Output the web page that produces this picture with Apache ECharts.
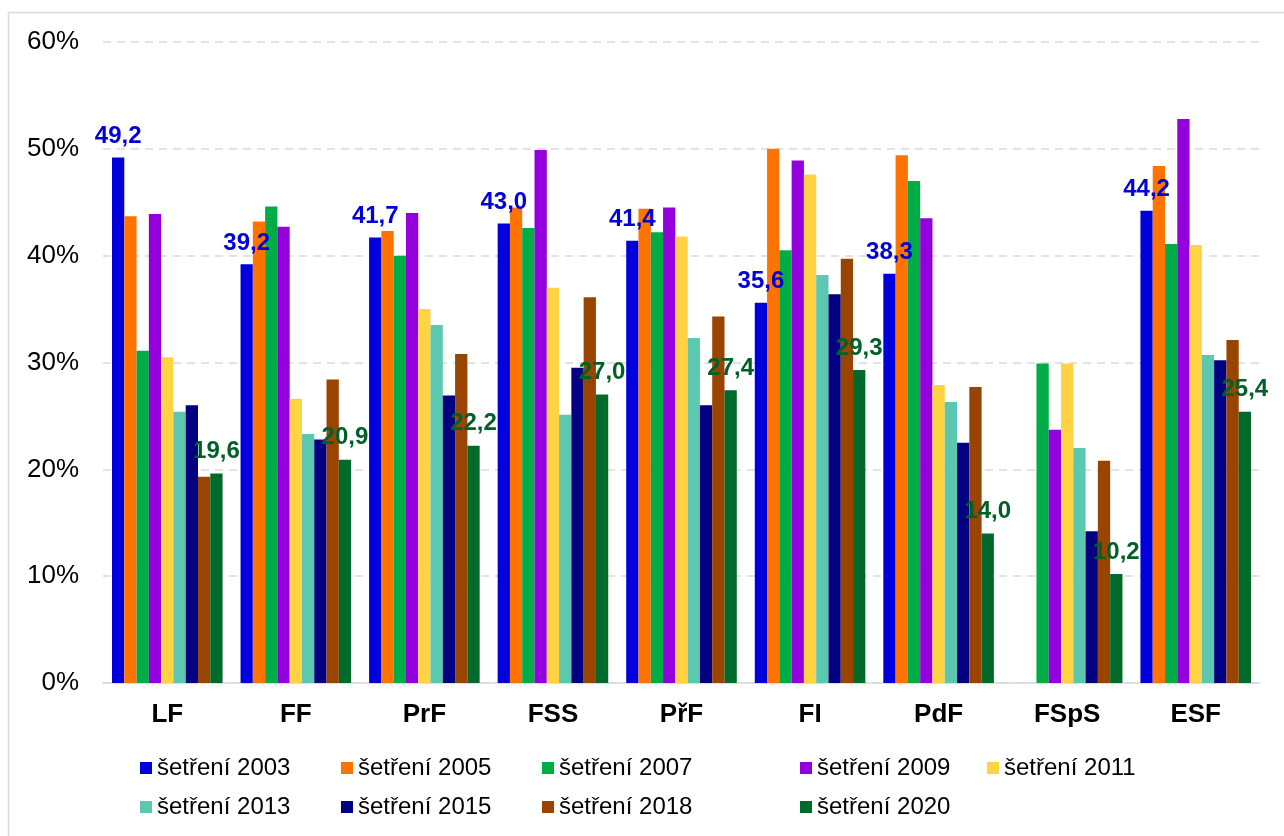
<!DOCTYPE html>
<html>
<head>
<meta charset="utf-8">
<script src="https://cdn.jsdelivr.net/npm/echarts@6/dist/echarts.min.js"></script>
<style>
  html, body { margin: 0; padding: 0; background: #fff; }
  #chart { width: 1284px; height: 836px; }
</style>
</head>
<body>
<div id="chart"></div>
<script>
// fakulty
const categories = ['LF', 'FF', 'PrF', 'FSS', 'PřF', 'FI', 'PdF', 'FSpS', 'ESF'];

// hodnoty v % podle šetření
const s2003 = [49.2, 39.2, 41.7, 43.0, 41.4, 35.6, 38.3, null, 44.2];
const s2005 = [43.7, 43.2, 42.3, 44.5, 44.4, 50.0, 49.4, null, 48.4];
const s2007 = [31.1, 44.6, 40.0, 42.6, 42.2, 40.5, 47.0, 29.9, 41.1];
const s2009 = [43.9, 42.7, 44.0, 49.9, 44.5, 48.9, 43.5, 23.7, 52.8];
const s2011 = [30.5, 26.6, 35.0, 37.0, 41.8, 47.6, 27.9, 29.9, 41.0];
const s2013 = [25.4, 23.3, 33.5, 25.1, 32.3, 38.2, 26.3, 22.0, 30.7];
const s2015 = [26.0, 22.8, 26.9, 29.5, 26.0, 36.4, 22.5, 14.2, 30.2];
const s2018 = [19.3, 28.4, 30.8, 36.1, 34.3, 39.7, 27.7, 20.8, 32.1];
const s2020 = [19.6, 20.9, 22.2, 27.0, 27.4, 29.3, 14.0, 10.2, 25.4];

const seriesNames = ['šetření 2003', 'šetření 2005', 'šetření 2007', 'šetření 2009', 'šetření 2011',
  'šetření 2013', 'šetření 2015', 'šetření 2018', 'šetření 2020'];
const seriesData = [s2003, s2005, s2007, s2009, s2011, s2013, s2015, s2018, s2020];
const colors = ['#0000dc', '#ff7300', '#00ac45', '#9400dc', '#ffd343',
  '#5cc8b0', '#000080', '#994400', '#006a2a'];

const yTicks = [0, 10, 20, 30, 40, 50, 60];

const FONT = '"Liberation Sans", Arial, sans-serif';

// pozice položek legendy (jako v originále, nerovnoměrné)
const legendPos = [
  [135, 751], [336, 751], [537, 751], [795, 751], [982, 751],
  [135, 790], [336, 790], [537, 790], [795, 790]
];

const fmt = v => v.toFixed(1).replace('.', ',');

const chart = echarts.init(document.getElementById('chart'), null, { renderer: 'canvas' });

const option = {
  backgroundColor: '#fff',
  animation: false,
  textStyle: { fontFamily: FONT },
  graphic: [{
    type: 'rect',
    shape: { x: 8.5, y: 12.5, width: 1300, height: 900 },
    style: { fill: 'none', stroke: '#d9d9d9', lineWidth: 1.5 },
    silent: true
  }],
  grid: { left: 103, right: 24, top: 42, bottom: 153 },
  legend: seriesNames.map((n, i) => ({
    data: [n],
    left: legendPos[i][0],
    top: legendPos[i][1],
    itemWidth: 12,
    itemHeight: 12,
    itemGap: 0,
    icon: 'rect',
    selectedMode: false,
    textStyle: { fontFamily: FONT, fontSize: 24, color: '#000' }
  })),
  xAxis: {
    type: 'category',
    data: categories,
    axisLine: { lineStyle: { color: '#d9d9d9', width: 1.5 } },
    axisTick: { show: false },
    axisLabel: { fontFamily: FONT, fontSize: 26, fontWeight: 'bold', color: '#000', margin: 19 }
  },
  yAxis: {
    type: 'value',
    min: yTicks[0],
    max: yTicks[yTicks.length - 1],
    interval: 10,
    axisLine: { show: false },
    axisTick: { show: false },
    axisLabel: { fontFamily: FONT, fontSize: 26, color: '#000', margin: 24, formatter: '{value}%' },
    splitLine: { lineStyle: { color: '#d9d9d9', width: 1.5, type: [8, 6] } }
  },
  series: seriesData.map((d, i) => ({
    name: seriesNames[i],
    type: 'bar',
    data: d,
    barGap: '0%',
    barCategoryGap: '14%',
    itemStyle: { color: colors[i] },
    label: (i === 0 || i === 8) ? {
      show: true,
      position: 'top',
      distance: i === 0 ? 9 : 10,
      fontFamily: FONT,
      fontSize: 24,
      fontWeight: 'bold',
      color: i === 0 ? '#0000dc' : '#006028',
      formatter: p => p.value == null ? '' : fmt(p.value)
    } : { show: false }
  }))
};

chart.setOption(option);
</script>
</body>
</html>
